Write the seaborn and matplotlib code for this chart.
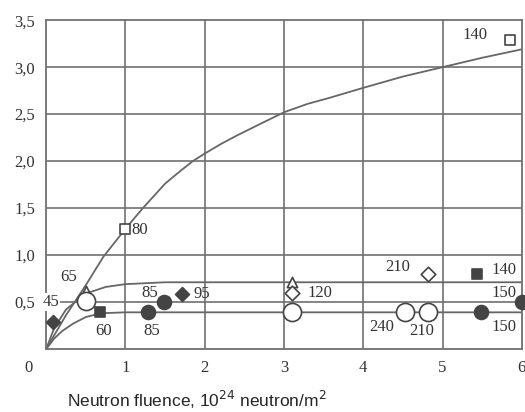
import matplotlib
matplotlib.use("Agg")
import matplotlib.pyplot as plt
import seaborn as sns
import pandas as pd

# curves
top_x = [0, 0.25, 0.5, 0.72, 1.0, 1.22, 1.5, 1.7, 1.85, 2.0, 2.2, 2.4, 2.71, 3.0, 3.3, 3.56, 4.0, 4.5, 5.0, 5.5, 6.0]
top_y = [0, 0.36, 0.68, 0.98, 1.28, 1.5, 1.76, 1.9, 2.0, 2.08, 2.18, 2.27, 2.4, 2.52, 2.61, 2.67, 2.78, 2.9, 3.0, 3.1, 3.19]

mid_x = [0, 0.1, 0.25, 0.5, 0.75, 1.0, 1.5, 2.0, 3.0, 4.0, 5.0, 6.0]
mid_y = [0, 0.22, 0.42, 0.59, 0.66, 0.69, 0.71, 0.71, 0.71, 0.71, 0.71, 0.71]

low_x = [0, 0.1, 0.2, 0.34, 0.5, 0.69, 1.0, 2.0, 3.0, 4.0, 5.0, 6.0]
low_y = [0, 0.11, 0.19, 0.27, 0.34, 0.38, 0.39, 0.39, 0.39, 0.39, 0.39, 0.39]

# points
open_sq_x, open_sq_y = [1.0, 5.85], [1.28, 3.29]
open_tri_x, open_tri_y = [0.5, 3.1], [0.62, 0.71]
open_dia_x, open_dia_y = [3.1, 4.82], [0.6, 0.8]
open_circ_x, open_circ_y = [0.5, 3.1, 4.52, 4.82], [0.51, 0.39, 0.39, 0.39]
fill_circ_x, fill_circ_y = [1.29, 1.48, 5.49, 6.0], [0.39, 0.5, 0.39, 0.5]
fill_dia_x, fill_dia_y = [0.09, 1.71], [0.29, 0.59]
fill_sq_x, fill_sq_y = [0.68, 5.43], [0.39, 0.8]

# temperature labels
lab_text = ["80", "140", "65", "45", "60", "85", "85", "95", "120", "210", "140",
            "150", "240", "210", "150"]
lab_x = [1.08, 5.25, 0.18, -0.05, 0.62, 1.22, 1.2, 1.86, 3.3, 4.28, 5.62,
         5.62, 4.08, 4.58, 5.62]
lab_y = [1.27, 3.34, 0.77, 0.5, 0.19, 0.19, 0.6, 0.59, 0.6, 0.87, 0.84,
         0.6, 0.23, 0.19, 0.23]

yticks = [0.5, 1.0, 1.5, 2.0, 2.5, 3.0, 3.5]
ytick_labels = ["0,5", "1,0", "1,5", "2,0", "2,5", "3,0", "3,5"]
xticks = [1, 2, 3, 4, 5, 6]

sns.set_style("white")
fig = plt.figure(figsize=(5.25, 4.12), dpi=100)
ax = fig.add_axes([0.088, 0.153, 0.906, 0.798])

line_c = "#666666"
grid_c = "#707070"

for gx in xticks[:-1]:
    ax.axvline(gx, color=grid_c, lw=1.2, zorder=1)
for gy in yticks[:-1]:
    ax.axhline(gy, color=grid_c, lw=1.2, zorder=1)

for xs, ys in [(top_x, top_y), (mid_x, mid_y), (low_x, low_y)]:
    sns.lineplot(x=xs, y=ys, ax=ax, color=line_c, lw=1.3, zorder=2)

pts = [
    (open_sq_x, open_sq_y, "s", "white", 55),
    (open_tri_x, open_tri_y, "^", "white", 55),
    (open_dia_x, open_dia_y, "D", "white", 55),
    (open_circ_x, open_circ_y, "o", "white", 170),
    (fill_circ_x, fill_circ_y, "o", "#444444", 100),
    (fill_dia_x, fill_dia_y, "D", "#444444", 50),
    (fill_sq_x, fill_sq_y, "s", "#444444", 50),
]
for xs, ys, m, fc, s in pts:
    sns.scatterplot(x=xs, y=ys, ax=ax, marker=m, s=s, facecolor=fc,
                    edgecolor="#444444", linewidth=1.2, zorder=4, clip_on=False)

for t, x, y in zip(lab_text, lab_x, lab_y):
    bbox = dict(facecolor="white", edgecolor="none", pad=0.5) if t == "45" and x < 0 else None
    ax.text(x, y, t, fontsize=12, family="Liberation Serif", color="#333333",
            va="center", ha="left", zorder=3, bbox=bbox)

ax.set_xlim(0, 6)
ax.set_ylim(0, 3.5)
ax.set_xticks(xticks)
ax.set_xticklabels([str(v) for v in xticks], family="Liberation Serif", fontsize=12, color="#333333")
ax.set_yticks(yticks)
ax.set_yticklabels(ytick_labels, family="Liberation Serif", fontsize=12, color="#333333")
ax.tick_params(length=0, pad=8)
ax.text(-0.22, -0.2, "0", transform=ax.transData, family="Liberation Serif",
        fontsize=12, color="#333333", ha="center", va="center")
for sp in ax.spines.values():
    sp.set_color(grid_c)
    sp.set_linewidth(1.3)

fig.text(0.375, 0.03, "Neutron fluence, 10$^{24}$ neutron/m$^2$", ha="center",
         va="center", fontsize=12.5, family="Liberation Sans")

fig.savefig("out.png", dpi=100)
